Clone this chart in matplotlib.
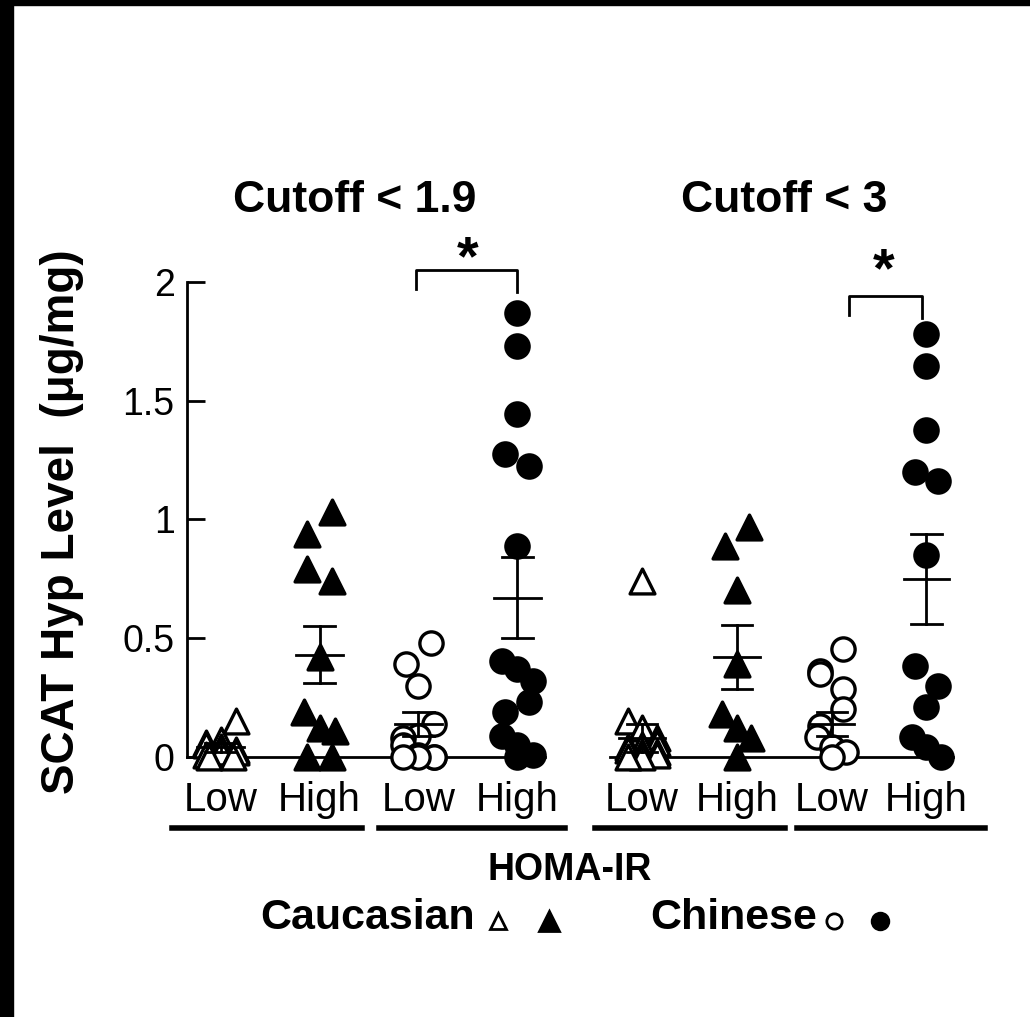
import numpy as np
import matplotlib.pyplot as plt
from matplotlib.patches import Rectangle

plt.rcParams['font.family'] = ['Liberation Sans', 'DejaVu Sans']

# data (ug/mg)
groups = ['Low', 'High', 'Low', 'High']
cauc_low_19 = [0.15, 0.07, 0.06, 0.05, 0.04, 0.03, 0.02, 0.02, 0.01, 0.0, 0.0]
cauc_high_19 = [1.03, 0.94, 0.79, 0.74, 0.42, 0.19, 0.12, 0.11, 0.0, 0.0]
chin_low_19 = [0.48, 0.39, 0.30, 0.14, 0.09, 0.08, 0.05, 0.01, 0.0, 0.0, 0.0, 0.0]
chin_high_19 = [1.87, 1.73, 1.445, 1.275, 1.225, 0.89, 0.405, 0.37, 0.32, 0.23,
                0.19, 0.09, 0.05, 0.01, 0.0]
cauc_low_3 = [0.74, 0.15, 0.12, 0.08, 0.06, 0.05, 0.04, 0.03, 0.02, 0.02, 0.01, 0.0, 0.0]
cauc_high_3 = [0.97, 0.89, 0.705, 0.39, 0.18, 0.12, 0.08, 0.0]
chin_low_3 = [0.455, 0.36, 0.35, 0.285, 0.20, 0.13, 0.085, 0.04, 0.02, 0.0]
chin_high_3 = [1.78, 1.645, 1.375, 1.2, 1.16, 0.85, 0.385, 0.30, 0.21, 0.085, 0.04, 0.0]

# mean and SEM as drawn
means_19 = [0.04, 0.43, 0.14, 0.67]
sems_19 = [0.02, 0.12, 0.05, 0.17]
means_3 = [0.08, 0.42, 0.14, 0.75]
sems_3 = [0.06, 0.135, 0.05, 0.19]

panels = [
    ('Cutoff < 1.9', [cauc_low_19, cauc_high_19, chin_low_19, chin_high_19], means_19, sems_19),
    ('Cutoff < 3', [cauc_low_3, cauc_high_3, chin_low_3, chin_high_3], means_3, sems_3),
]
markers = ['^', '^', 'o', 'o']
filled = [False, True, False, True]


def swarm(vals, ypx=238.5, xpx=98.0, dmin=24.0, maxn=3):
    # group points that would overlap into short rows, spread each row about the centre
    order = np.argsort(vals)[::-1]
    offs = np.zeros(len(vals))
    rows = []
    for idx in order:
        if rows and len(rows[-1]) < maxn and (vals[rows[-1][0]] - vals[idx]) * ypx < dmin:
            rows[-1].append(idx)
        else:
            rows.append([idx])
    for r, row in enumerate(rows):
        n = len(row)
        if n == 1:
            continue
        st = 24.0 if n == 2 else 15.0
        pos = (np.arange(n) - (n - 1) / 2) * st
        if r % 2 == 0:
            pos = pos[::-1]
        for k, idx in enumerate(row):
            offs[idx] = pos[k] / xpx
    return offs


fig = plt.figure(figsize=(10.30, 10.17), dpi=100)

ax_pos = [[0.1816, 0.2557, 0.3476, 0.467], [0.5922, 0.2557, 0.333, 0.467]]
title_x = [355, 784]
axes = []
for i, (title, data, means, sems) in enumerate(panels):
    ax = fig.add_axes(ax_pos[i])
    axes.append(ax)
    for j, vals in enumerate(data):
        xs = j + swarm(vals)
        ax.scatter(xs, vals, s=320 if markers[j] == '^' else 280, marker=markers[j],
                   facecolors='black' if filled[j] else 'white',
                   edgecolors='black', linewidths=2.4, clip_on=False, zorder=3)
        ax.plot([j - 0.24, j + 0.24], [means[j], means[j]], color='black', lw=2, zorder=4, clip_on=False)
        ax.plot([j, j], [means[j] - sems[j], means[j] + sems[j]], color='black', lw=2, zorder=4, clip_on=False)
        for yy in (means[j] - sems[j], means[j] + sems[j]):
            ax.plot([j - 0.16, j + 0.16], [yy, yy], color='black', lw=2, zorder=4, clip_on=False)
    ax.set_xlim(-0.34, 3.28)
    ax.set_ylim(0, 2)
    ax.set_xticks([])
    for sp in ['top', 'right']:
        ax.spines[sp].set_visible(False)
    ax.spines['bottom'].set_linewidth(2)
    ax.spines['left'].set_linewidth(2)
    fig.text(title_x[i] / 1030, 1 - 200 / 1017, title, ha='center', va='center',
             fontsize=32, fontweight='bold')
    if i == 0:
        ax.set_yticks([0, 0.5, 1, 1.5, 2])
        ax.set_yticklabels(['0', '0.5', '1', '1.5', '2'])
        ax.tick_params(axis='y', direction='in', length=13, width=2, labelsize=27, pad=9)
    else:
        ax.spines['left'].set_visible(False)
        ax.set_yticks([])
    # Low / High labels
    for j, g in enumerate(groups):
        ax.text(j, -0.1, g, ha='center', va='top', fontsize=29)

fig.text(62 / 1030, 1 - 522 / 1017, 'SCAT Hyp Level  (\u03bcg/mg)', rotation=90,
         ha='center', va='center', fontsize=33, fontweight='bold')

# significance brackets
axes[0].plot([1.97, 1.97, 3.0, 3.0], [1.97, 2.05, 2.05, 1.96], color='black', lw=2, clip_on=False)
axes[0].text(2.5, 1.98, '*', ha='center', va='bottom', fontsize=40, fontweight='bold')
axes[1].plot([2.18, 2.18, 2.95, 2.95], [1.86, 1.94, 1.94, 1.85], color='black', lw=2, clip_on=False)
axes[1].text(2.55, 1.93, '*', ha='center', va='bottom', fontsize=40, fontweight='bold')

# underlines below Low / High pairs
for x0, x1 in [(172, 362), (379, 565), (595, 785), (797, 985)]:
    fig.add_artist(plt.Line2D([x0 / 1030, x1 / 1030], [1 - 828 / 1017] * 2, color='black', lw=4))

fig.text(570 / 1030, 1 - 870 / 1017, 'HOMA-IR', ha='center', va='center', fontsize=27, fontweight='bold')
leg_y = 1 - 918 / 1017
fig.text(260 / 1030, leg_y, 'Caucasian', ha='left', va='center', fontsize=31, fontweight='bold')
fig.text(650 / 1030, leg_y, 'Chinese', ha='left', va='center', fontsize=31, fontweight='bold')
for xp, mk, fc, ms in [(498, '^', 'white', 12), (549, '^', 'black', 15),
                       (834, 'o', 'white', 11), (880, 'o', 'black', 12)]:
    fig.add_artist(plt.Line2D([xp / 1030], [leg_y - 0.003], marker=mk, markersize=ms,
                              markerfacecolor=fc, markeredgecolor='black', markeredgewidth=2,
                              linestyle='none'))

# black frame strips at top and left edge
fig.add_artist(Rectangle((0, 0), 13 / 1030, 1, transform=fig.transFigure, color='black'))
fig.add_artist(Rectangle((0, 1 - 5 / 1017), 1, 5 / 1017, transform=fig.transFigure, color='black'))

fig.savefig('out.png', dpi=100)
